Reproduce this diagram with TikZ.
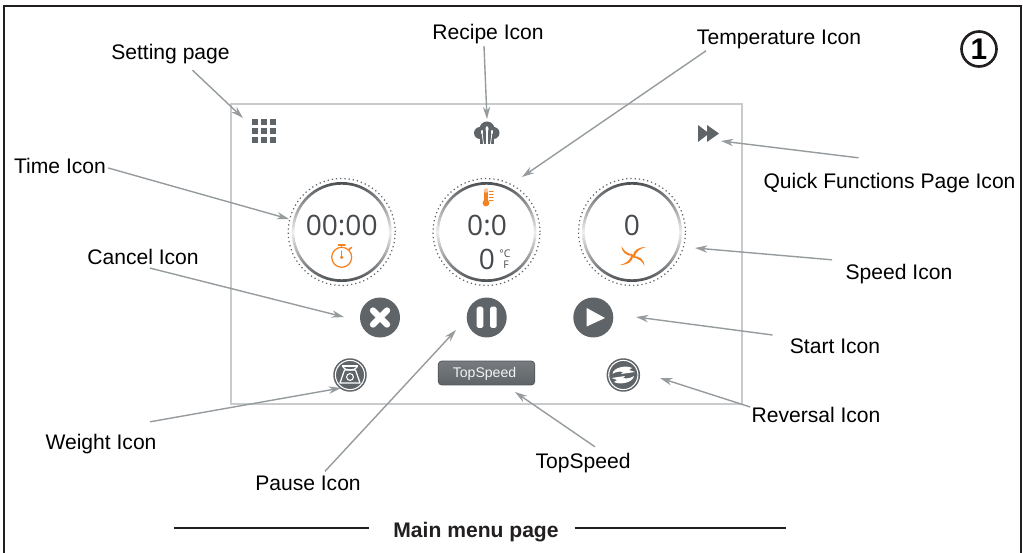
\documentclass[tikz,border=0pt]{standalone}
\usepackage{fontspec}
\usepackage{xcolor}
\setmainfont{Liberation Sans}
\newfontfamily\dialfont{Open Sans}
\usetikzlibrary{arrows.meta}
\usetikzlibrary{positioning}

\begin{document}
\begin{tikzpicture}[x=0.02cm, y=-0.02cm,
		calloutlabel/.style={inner sep=0pt, text=black, font=\fontsize{12}{14}\selectfont},
		calloutline/.style={-{Stealth[length=7pt, width=4.2pt]}, draw=GREYLINE, line width={0.8pt}},
		dialdots/.style={circle, draw=DARKICON, line width={0.7pt}, dash pattern=on 0.7pt off 1.7pt, minimum size=2.14cm, inner sep=0pt},
		dialtext/.style={inner sep=0pt, text=DIALTEXT, font=\dialfont\fontsize{16}{18}\selectfont},
		roundicon/.style={circle, fill=DARKICON, minimum size=0.8cm, inner sep=0pt},
		smallicon/.style={circle, fill=DARKICON, minimum size=0.67cm, inner sep=0pt},
		whitemark/.style={draw=white, line cap=round, line join=round},
		orangemark/.style={draw=ORANGE, line cap=round, line join=round}]
			\definecolor{FRAME}{RGB}{35, 31, 32}
			\definecolor{SCREEN}{RGB}{200, 202, 203}
			\definecolor{GREYLINE}{RGB}{150, 155, 158}
			\definecolor{DARKICON}{RGB}{95, 100, 104}
			\definecolor{DIALTEXT}{RGB}{70, 74, 77}
			\definecolor{ORANGE}{RGB}{245, 130, 32}
			\useasboundingbox (0, 0) rectangle (1023, 553);
			\coordinate (framebl) at (4, 553);
			\coordinate (frametl) at (4, 6);
			\coordinate (frametr) at (1021, 6);
			\coordinate (framebr) at (1021, 553);
			\draw[draw=FRAME, line width={1.2pt}] (framebl) to (frametl) to (frametr) to (framebr);
			\node[draw=SCREEN, line width={1.5pt}, minimum width=10.22cm, minimum height=6cm, inner sep=0pt] (screen) at (486.5, 254) {};

			\node[circle, draw=FRAME, line width={1.5pt}, minimum size=0.7cm, inner sep=0pt, font=\bfseries\fontsize{17}{18}\selectfont] (pagemark) at (979, 49) {1};

			\node[calloutlabel] (settinglabel) at (170.5, 54) {Setting page};
			\node[calloutlabel] (recipelabel) at (488, 34) {Recipe Icon};
			\node[calloutlabel] (templabel) at (779, 39) {Temperature Icon};
			\node[calloutlabel] (quicklabel) at (889.5, 183) {Quick Functions Page Icon};
			\node[calloutlabel] (timelabel) at (60, 166) {Time Icon};
			\node[calloutlabel] (cancellabel) at (143, 257) {Cancel Icon};
			\node[calloutlabel] (speedlabel) at (899, 274) {Speed Icon};
			\node[calloutlabel] (startlabel) at (835, 346) {Start Icon};
			\node[calloutlabel] (reversallabel) at (816, 415) {Reversal Icon};
			\node[calloutlabel] (weightlabel) at (101, 444) {Weight Icon};
			\node[calloutlabel] (pauselabel) at (308, 483) {Pause Icon};
			\node[calloutlabel] (topspeedlabel) at (583, 463) {TopSpeed};

			\foreach \dname/\dx in {timedial/341.7, tempdial/486.5, speeddial/632} {
				\node[dialdots] (\dname) at (\dx, 232) {};
				\shade[even odd rule, top color=DARKICON!80!black, bottom color=DARKICON!80!black, middle color=white!90!DARKICON] (\dname.center) circle (50) (\dname.center) circle (47.3);
			}
			\node[dialtext] (timetext) at (341.7, 226) {00:00};
			\node[dialtext] (temptext) at (487, 226) {0:0};
			\node[dialtext] (heattext) at (487, 259.5) {0};
			\node[dialtext] (speedtext) at (632, 225) {0};
			\node[inner sep=0pt, text=DIALTEXT, font=\dialfont\fontsize{6}{6}\selectfont] (unittop) at (505, 254) {°C};
			\node[inner sep=0pt, text=DIALTEXT, font=\dialfont\fontsize{6}{6}\selectfont] (unitlow) at (506, 265) {F};

			\foreach \gx in {0, 1, 2} {
				\foreach \gy in {0, 1, 2} {
					\fill[DARKICON] (252 + 9*\gx, 119 + 9*\gy) rectangle ++(6.3, 6.3);
				}
			}

			\fill[DARKICON] (487, 129) circle (7.5) (480, 133) circle (6) (493.5, 133) circle (6);
			\fill[DARKICON] (480, 132) rectangle (494, 144);
			\draw[whitemark, line width={0.45pt}] (482, 132) to (483.5, 144);
			\draw[whitemark, line width={0.45pt}] (492, 132) to (490.5, 144);
			\draw[whitemark, line width={0.6pt}] (487, 130) to (487, 144);
			\fill[white] (487, 129) ellipse (1.5 and 2.8);
			\fill[white] (482, 132) ellipse (1 and 2);
			\fill[white] (492, 132) ellipse (1 and 2);

			\fill[DARKICON] (698, 125) -- (709, 133.5) -- (698, 142) -- cycle;
			\fill[DARKICON] (707, 125) -- (719, 133.5) -- (707, 142) -- cycle;

			\draw[orangemark, line width={0.7pt}] (341.7, 257.3) circle (10);
			\draw[orangemark, line width={0.9pt}] (338.5, 244.8) -- (345, 244.8);
			\draw[orangemark, line width={0.7pt}] (341.7, 245) -- (341.7, 247.3);
			\draw[orangemark, line width={0.9pt}] (349, 249.5) -- (351.5, 247.5);
			\draw[orangemark, line width={0.7pt}] (341.7, 251) -- (341.7, 258);
			\fill[ORANGE] (341.7, 257.3) circle (1.8);

			\fill[ORANGE] (486, 203) circle (3.4);
			\fill[ORANGE] (483.7, 191) rectangle (488.3, 202);
			\fill[ORANGE!45] (486, 190.5) circle (2.3);
			\foreach \ty in {191.5, 194.5, 197.5, 200.5} {
				\draw[orangemark, line width={0.7pt}] (489.5, \ty) -- (493, \ty);
			}

			\foreach \bladeangle in {0, 90, 180, 270} {
				\begin{scope}[shift={(633, 256)}, yscale=0.78, rotate=\bladeangle]
					\fill[ORANGE] (0, 0) .. controls (0, -7) and (5, -11.5) .. (13, -11.5) .. controls (7, -9.5) and (3, -6) .. (1.6, 1) -- cycle;
				\end{scope}
			}

			\node[roundicon] (cancelicon) at (380, 317.5) {};
			\draw[whitemark, line width={3.6pt}] (373, 310.5) -- (387, 324.5);
			\draw[whitemark, line width={3.6pt}] (387, 310.5) -- (373, 324.5);
			\node[roundicon] (pauseicon) at (486.7, 317.5) {};
			\fill[white, rounded corners=1pt] (476.7, 306.7) rectangle (483.3, 328);
			\fill[white, rounded corners=1pt] (490, 306.7) rectangle (496.7, 328);
			\node[roundicon] (starticon) at (593.3, 317.5) {};
			\fill[white] (586.7, 308) -- (605, 318) -- (586.7, 326.5) -- cycle;

			\node[smallicon] (weighticon) at (350, 375) {};
			\draw[white, line width={0.6pt}] (weighticon.center) circle (14.6);
			\fill[white] (342, 365) rectangle (358, 367);
			\draw[whitemark, line width={0.7pt}] (343, 367) .. controls (344, 371) and (356, 371) .. (357, 367);
			\draw[whitemark, line width={0.7pt}] (344.5, 370) -- (355.5, 370) -- (360, 383) -- (340, 383) -- cycle;
			\draw[white, line width={0.6pt}] (350, 377) circle (3.4);

			\node[smallicon] (reversalicon) at (623.3, 375) {};
			\draw[white, line width={0.6pt}] (reversalicon.center) circle (14.6);
			\fill[white] (612.5, 374) .. controls (613, 367) and (627, 365) .. (632, 368) -- (629, 370) -- (635, 372) -- (621, 374) -- (623, 372) .. controls (619, 371) and (615, 372) .. cycle;
			\fill[white] (634, 376) .. controls (633, 383) and (619, 385) .. (614, 382) -- (617, 380) -- (611.5, 378) -- (625, 376) -- (623, 378) .. controls (627, 379) and (631, 378) .. cycle;

			\node[draw=DARKICON!85!black, line width={0.4pt}, rounded corners=2pt, top color=DARKICON!85, bottom color=DARKICON, minimum width=1.93cm, minimum height=0.48cm, inner sep=0pt] (topspeedbutton) at (486.5, 373) {};
			\node[inner sep=0pt, text=white!92!DARKICON, font=\fontsize{8}{9}\selectfont] (topspeedtext) at (484.5, 373.5) {TopSpeed};

			\coordinate (settingtip) at (243, 118);
			\coordinate (recipetip) at (487, 119);
			\coordinate (temptip) at (522, 177);
			\coordinate (quicktip) at (721, 141);
			\coordinate (timetip) at (289, 219);
			\coordinate (canceltip) at (344, 317);
			\coordinate (speedtip) at (695, 248);
			\coordinate (starttip) at (636, 317);
			\coordinate (reversaltip) at (660, 378);
			\coordinate (weighttip) at (341, 388);
			\coordinate (pausetip) at (456, 330);
			\coordinate (topspeedtip) at (515, 392);

			\draw[calloutline] (settinglabel.south) ++(22, 6) to (settingtip);
			\draw[calloutline] (recipelabel.south) ++(-4, 2) to (recipetip);
			\draw[calloutline] (templabel.south) ++(-73, 2) to (temptip);
			\draw[calloutline] (quicklabel.north) ++(-31, -15) to (quicktip);
			\draw[calloutline] (timelabel.east) ++(2, 2) to (timetip);
			\draw[calloutline] (cancellabel.south) ++(7, 3) to (canceltip);
			\draw[calloutline] (speedlabel.north) ++(-67, -4) to (speedtip);
			\draw[calloutline] (startlabel.west) ++(-17, -11) to (starttip);
			\draw[calloutline] (reversallabel.west) ++(-1, -8) to (reversaltip);
			\draw[calloutline] (weightlabel.north) ++(49, -12) to (weighttip);
			\draw[calloutline] (pauselabel.north) ++(17, -4) to (pausetip);
			\draw[calloutline] (topspeedlabel.north) ++(12, -6) to (topspeedtip);

			\node[inner sep=0pt, text=FRAME, font=\bfseries\fontsize{12}{14}\selectfont] (pagetitle) at (476, 532) {Main menu page};
			\coordinate (ruleleft) at (173.5, 528);
			\coordinate (ruleright) at (786, 528);
			\draw[draw=FRAME, line width={0.6pt}] (ruleleft) to (368.6, 528);
			\draw[draw=FRAME, line width={0.6pt}] (574.7, 528) to (ruleright);
		\end{tikzpicture}
\end{document}
